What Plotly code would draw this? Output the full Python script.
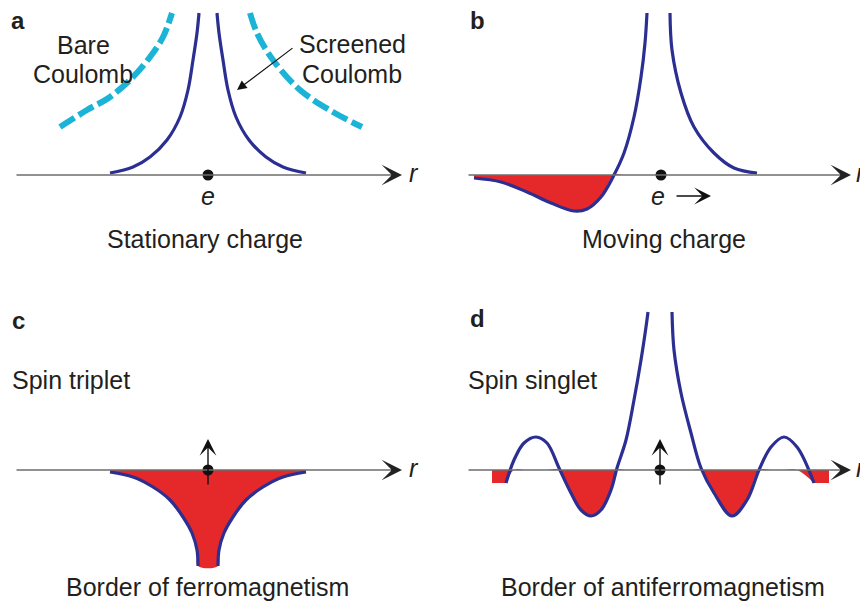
"""
Screening / spin-fluctuation mediated potentials — four schematic panels.
Coordinates: r along the axis (0 at the charge), V up from the axis (px-like units).
"""

import numpy as np
import plotly.graph_objects as go

# ── Shared style ──────────────────────────────────────────────────────────────
_FONT  = dict(family="Liberation Sans, Arial, sans-serif", size=25, color="#231f20")
_NAVY  = "#2b2f92"
_CYAN  = "#1bb3d6"
_RED   = "#e5282a"
_AXIS  = "#6e6e6e"
_BLACK = "#111111"

# ── Data ──────────────────────────────────────────────────────────────────────
# a: stationary charge
a_scr_left_r  = [-98, -75, -58, -41, -28, -20, -15, -11, -9]
a_scr_left_v  = [2, 8, 18, 35, 58, 85, 115, 142, 162]
a_scr_right_r = [9, 11, 15, 20, 28, 41, 58, 75, 98]
a_scr_right_v = [162, 142, 115, 85, 58, 35, 18, 8, 2]
a_bare_left_r  = [-148, -121, -98, -75, -58, -45, -36]
a_bare_left_v  = [48, 65, 78, 98, 118, 138, 162]
a_bare_right_r = [42, 49, 65, 92, 125, 154]
a_bare_right_v = [162, 142, 115, 85, 63, 48]

# b: moving charge
b_left_r  = [-187, -160, -134, -110, -87, -74, -60, -47, -37, -27, -20, -16, -14]
b_left_v  = [-3, -7, -17, -28, -36, -34, -22, 0, 22, 58, 98, 132, 162]
b_right_r = [9, 11, 20, 33, 53, 73, 96]
b_right_v = [162, 125, 82, 48, 22, 7, 2]

# c: spin triplet (border of ferromagnetism)
c_left_r  = [-98, -75, -55, -38, -25, -16, -11, -10]
c_left_v  = [-2, -7, -17, -30, -47, -63, -80, -96]
c_right_r = [10, 11, 16, 25, 38, 55, 75, 98]
c_right_v = [-96, -80, -63, -47, -30, -17, -7, -2]

# d: spin singlet (border of antiferromagnetism)
d_left_r  = [-154, -146, -136, -124, -113, -101, -89, -79, -69, -59, -49, -43,
             -34, -26, -19, -14, -12]
d_left_v  = [-13, 10, 27, 33, 27, 2, -23, -40, -46, -40, -20, 2, 30, 70, 110, 143, 158]
d_right_r = [12, 14, 21, 31, 41, 54, 72, 87, 99, 111, 124, 137, 154]
d_right_v = [158, 120, 77, 37, 2, -23, -46, -30, 0, 23, 33, 23, -13]
d_end_left_r  = [-168, -154]
d_end_right_r = [154, 169]
d_end_v       = [-13, -13]

# the page body adds an 8px margin, so the figure is 8px smaller and sits at (8, 8)
W, H = 860, 597
TOP = 294  # height of the top row inside the figure
BOT = H - TOP

# panel geometry: (x range, y range, x domain, y domain)
PANELS = {
    "a": ([-200, 226], [-127, 167], [0.0, 426 / W], [BOT / H, 1.0]),
    "b": ([-227, 207], [-127, 167], [426 / W, 1.0], [BOT / H, 1.0]),
    "c": ([-200, 226], [-135, 168], [0.0, 426 / W], [0.0, BOT / H]),
    "d": ([-226, 208], [-135, 168], [426 / W, 1.0], [0.0, BOT / H]),
}
AX = {"a": ("x", "y"), "b": ("x2", "y2"), "c": ("x3", "y3"), "d": ("x4", "y4")}

fig = go.Figure()


def line(p, r, v, color=_NAVY, width=3.2, dash=None):
    xa, ya = AX[p]
    fig.add_trace(go.Scatter(
        x=r, y=v, xaxis=xa, yaxis=ya, mode="lines",
        line=dict(color=color, width=width, dash=dash, shape="spline", smoothing=1.0),
        hoverinfo="skip",
    ))


def fill_below(p, r, v):
    xa, ya = AX[p]
    fig.add_trace(go.Scatter(
        x=r, y=np.minimum(np.array(v, dtype=float), 0), xaxis=xa, yaxis=ya,
        mode="lines", line=dict(width=0, color=_RED, shape="spline", smoothing=1.0),
        fill="tozeroy", fillcolor=_RED, hoverinfo="skip",
    ))


def dot(p):
    xa, ya = AX[p]
    fig.add_trace(go.Scatter(
        x=[0], y=[0], xaxis=xa, yaxis=ya, mode="markers",
        marker=dict(color=_BLACK, size=11), hoverinfo="skip",
    ))


annotations = []


def text(p, r, v, s, size=25, **kw):
    xa, ya = AX[p]
    a = dict(x=r, y=v, xref=xa, yref=ya, text=s, showarrow=False,
             font=dict(_FONT, size=size))
    a.update(kw)
    annotations.append(a)


def arrow(p, r0, v0, r1, v1, color=_AXIS, width=1.6, size=1.8, head=3):
    xa, ya = AX[p]
    annotations.append(dict(x=r1, y=v1, ax=r0, ay=v0, xref=xa, yref=ya,
                            axref=xa, ayref=ya, text="", showarrow=True,
                            arrowhead=head, arrowsize=size, arrowwidth=width,
                            arrowcolor=color, standoff=0, startstandoff=0))


def r_axis(p, r0, r1):
    arrow(p, r0, 0, r1 - 4, 0, color=_AXIS, width=1.6, head=0)
    arrow(p, r1 - 8, 0, r1, 0, color="#222222", width=2, size=1.7)


# ── Panel a ───────────────────────────────────────────────────────────────────
r_axis("a", -193, 194)
line("a", a_bare_left_r, a_bare_left_v, color=_CYAN, width=6, dash="17px,5px")
line("a", a_bare_right_r, a_bare_right_v, color=_CYAN, width=6, dash="17px,5px")
line("a", a_scr_left_r, a_scr_left_v)
line("a", a_scr_right_r, a_scr_right_v)
dot("a")
arrow("a", 86, 128, 29, 85, color=_BLACK, width=1.2, size=1.6, head=2)
text("a", -190, 155, "<b>a</b>", size=24)
text("a", -125, 130, "Bare")
text("a", -125, 101, "Coulomb")
text("a", 144, 131, "Screened")
text("a", 144, 101, "Coulomb")
text("a", 206, 2, "<i>r</i>")
text("a", 0, -21, "<i>e</i>")
text("a", -3, -64, "Stationary charge")

# ── Panel b ───────────────────────────────────────────────────────────────────
r_axis("b", -194, 190)
fill_below("b", b_left_r, b_left_v)
line("b", b_left_r, b_left_v)
line("b", b_right_r, b_right_v)
dot("b")
arrow("b", 14, -21, 50, -21, color=_BLACK, width=1.4, size=2)
text("b", -184, 155, "<b>b</b>", size=24)
text("b", 0, 2, "<i>r</i>", xref="paper", x=1.0, xanchor="right")
text("b", -3, -21, "<i>e</i>")
text("b", 3, -64, "Moving charge")

# ── Panel c ───────────────────────────────────────────────────────────────────
r_axis("c", -193, 194)
fill_below("c", c_left_r + c_right_r, c_left_v + c_right_v)
line("c", c_left_r, c_left_v)
line("c", c_right_r, c_right_v)
arrow("c", 0, -16, 0, 31, color=_BLACK, width=1.4, size=2)
dot("c")
text("c", -190, 150, "<b>c</b>", size=24)
text("c", -198, 90, "Spin triplet", xanchor="left")
text("c", 206, 2, "<i>r</i>")
text("c", -1, -117, "Border of ferromagnetism")

# ── Panel d ───────────────────────────────────────────────────────────────────
r_axis("d", -193, 191)
fill_below("d", d_end_left_r, d_end_v)
fill_below("d", d_end_right_r, d_end_v)
fill_below("d", d_left_r, d_left_v)
fill_below("d", d_right_r, d_right_v)
line("d", d_left_r, d_left_v)
line("d", d_right_r, d_right_v)
arrow("d", 0, -16, 0, 31, color=_BLACK, width=1.4, size=2)
dot("d")
text("d", -183, 152, "<b>d</b>", size=24)
text("d", -194, 90, "Spin singlet", xanchor="left")
text("d", 0, 2, "<i>r</i>", xref="paper", x=1.0, xanchor="right")
text("d", 3, -117, "Border of antiferromagnetism")

# ── Layout ────────────────────────────────────────────────────────────────────
layout = dict(
    width=W, height=H,
    margin=dict(l=0, r=0, t=0, b=0),
    plot_bgcolor="white", paper_bgcolor="white",
    showlegend=False, font=_FONT,
    annotations=annotations,
)
for i, (p, (xr, yr, xd, yd)) in enumerate(PANELS.items(), start=1):
    sfx = "" if i == 1 else str(i)
    layout["xaxis" + sfx] = dict(range=xr, domain=xd, visible=False, fixedrange=True,
                                 anchor="y" + sfx)
    layout["yaxis" + sfx] = dict(range=yr, domain=yd, visible=False, fixedrange=True,
                                 anchor="x" + sfx)
fig.update_layout(**layout)

fig.write_html("out.html")
